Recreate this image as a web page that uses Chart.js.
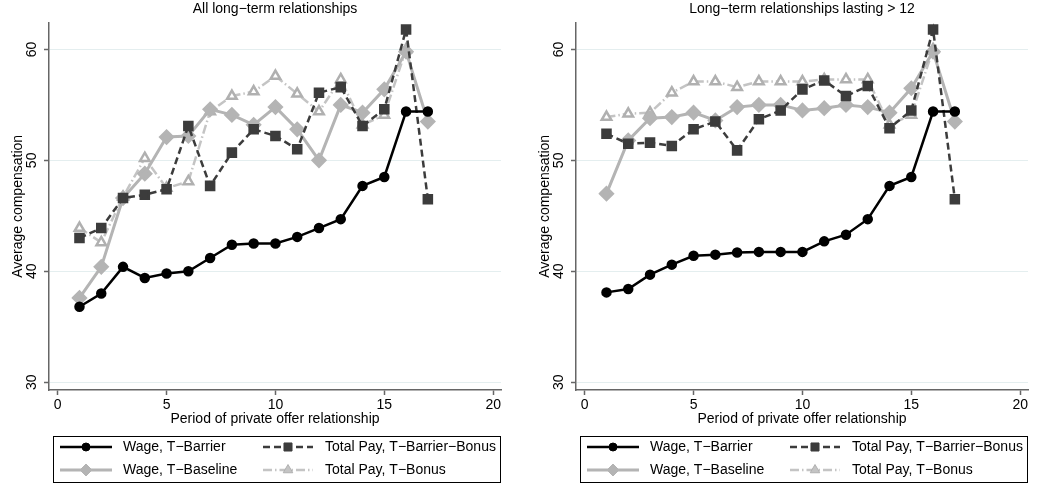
<!DOCTYPE html>
<html>
<head>
<meta charset="utf-8">
<title>Average compensation by period</title>
<script src="https://cdn.jsdelivr.net/npm/chart.js@4.4.1/dist/chart.umd.min.js"></script>
<style>
  html, body { margin: 0; padding: 0; background: #fff; }
  .panel { position: absolute; top: 0; width: 510px; height: 484px; }
  #panelLeft { left: 0; }
  #panelRight { left: 527px; }
</style>
</head>
<body>
<div class="panel" id="panelLeft"><canvas id="chartAll"></canvas></div>
<div class="panel" id="panelRight"><canvas id="chartLong"></canvas></div>
<script>
// Periods of the private offer relationship
const periods = [1, 2, 3, 4, 5, 6, 7, 8, 9, 10, 11, 12, 13, 14, 15, 16, 17];

// Left panel: all long-term relationships
const wageBarrierAll = [36.8, 38.0, 40.4, 39.4, 39.8, 40.0, 41.2, 42.4, 42.5, 42.5, 43.1, 43.9, 44.7, 47.7, 48.5, 54.4, 54.4];
const wageBaselineAll = [37.6, 40.4, 46.6, 48.8, 52.1, 52.2, 54.6, 54.1, 53.2, 54.8, 52.8, 50.0, 55.0, 54.3, 56.4, 59.8, 53.5];
const payBarrierBonusAll = [43.0, 43.9, 46.6, 46.9, 47.4, 53.1, 47.7, 50.7, 52.8, 52.2, 51.0, 56.1, 56.6, 53.1, 54.6, 61.8, 46.5];
const payBonusAll = [43.9, 42.6, 46.7, 50.2, 47.5, 48.1, 54.4, 55.8, 56.2, 57.6, 56.0, 54.4, 57.3, 53.2, 54.1, 60.0, null];

// Right panel: relationships lasting > 12
const wageBarrierLong = [38.1, 38.4, 39.7, 40.6, 41.4, 41.5, 41.7, 41.75, 41.75, 41.75, 42.7, 43.3, 44.7, 47.7, 48.5, 54.4, 54.4];
const wageBaselineLong = [47.0, 51.8, 53.8, 53.9, 54.3, 53.6, 54.8, 55.0, 55.0, 54.5, 54.7, 55.0, 54.8, 54.3, 56.5, 59.8, 53.5];
const payBarrierBonusLong = [52.4, 51.5, 51.6, 51.3, 52.8, 53.5, 50.9, 53.7, 54.5, 56.4, 57.2, 55.8, 56.7, 52.9, 54.5, 61.8, 46.5];
const payBonusLong = [53.9, 54.2, 54.3, 56.1, 57.1, 57.1, 56.6, 57.1, 57.1, 57.1, 57.3, 57.3, 57.3, 53.2, 54.1, 60.0, null];

const seriesLabels = ["Wage, T\u2212Barrier", "Wage, T\u2212Baseline", "Total Pay, T\u2212Barrier\u2212Bonus", "Total Pay, T\u2212Bonus"];
const xTicks = [0, 5, 10, 15, 20];
const yTicks = [30, 40, 50, 60];

const FONT = "'Liberation Sans', Arial, Helvetica, sans-serif";
const AXIS = "#666666";

function toPoints(vals) {
  return periods.map((p, i) => ({ x: p, y: vals[i] }));
}

function drawMarker(ctx, style, x, y, r, fill, stroke) {
  ctx.beginPath();
  if (style === "circle") {
    ctx.arc(x, y, r, 0, Math.PI * 2);
  } else if (style === "rect") {
    const s = r * Math.SQRT1_2;
    ctx.rect(x - s, y - s, 2 * s, 2 * s);
  } else if (style === "rectRot") {
    ctx.moveTo(x, y - r);
    ctx.lineTo(x + r, y);
    ctx.lineTo(x, y + r);
    ctx.lineTo(x - r, y);
    ctx.closePath();
  } else if (style === "triangle") {
    ctx.moveTo(x, y - r);
    ctx.lineTo(x + r * 0.866, y + r * 0.5);
    ctx.lineTo(x - r * 0.866, y + r * 0.5);
    ctx.closePath();
  }
  ctx.fillStyle = fill;
  ctx.fill();
  ctx.strokeStyle = stroke;
  ctx.lineWidth = 1;
  ctx.stroke();
}

// rotated y tick labels, Stata style
const yTickLabels = {
  id: "yTickLabels",
  afterDraw(chart) {
    const ctx = chart.ctx;
    const scale = chart.scales.y;
    ctx.save();
    ctx.font = "14px " + FONT;
    ctx.fillStyle = "#000";
    ctx.textAlign = "center";
    ctx.textBaseline = "middle";
    yTicks.forEach(v => {
      const py = scale.getPixelForValue(v);
      ctx.save();
      ctx.translate(32, py);
      ctx.rotate(-Math.PI / 2);
      ctx.fillText(String(v), 0, 0);
      ctx.restore();
    });
    ctx.restore();
  }
};

// boxed two-column legend under the plot
const legendBox = {
  id: "legendBox",
  afterDraw(chart) {
    const ctx = chart.ctx;
    const sets = chart.data.datasets;
    ctx.save();
    ctx.strokeStyle = "#000";
    ctx.lineWidth = 1;
    ctx.strokeRect(53.5, 436.5, 447, 46);
    const slots = [
      { x0: 60, x1: 112, tx: 123, y: 447 },
      { x0: 60, x1: 112, tx: 123, y: 470 },
      { x0: 263, x1: 313, tx: 325, y: 447 },
      { x0: 263, x1: 313, tx: 325, y: 470 }
    ];
    sets.forEach((ds, i) => {
      const s = slots[i];
      ctx.save();
      ctx.strokeStyle = ds.borderColor;
      ctx.lineWidth = ds.borderWidth;
      ctx.setLineDash(ds.borderDash || []);
      ctx.beginPath();
      ctx.moveTo(s.x0, s.y);
      ctx.lineTo(s.x1, s.y);
      ctx.stroke();
      ctx.restore();
      const fill = ds.pointStyle === "triangle" ? ds.borderColor : ds.pointBackgroundColor;
      drawMarker(ctx, ds.pointStyle, (s.x0 + s.x1) / 2, s.y, ds.pointRadius, fill, ds.pointBorderColor);
      ctx.font = "14px " + FONT;
      ctx.fillStyle = "#000";
      ctx.textAlign = "left";
      ctx.textBaseline = "middle";
      ctx.fillText(ds.label, s.tx, s.y);
    });
    ctx.restore();
  }
};

function makeChart(canvasId, title, wageBarrier, wageBaseline, payBarrierBonus, payBonus) {
  const ctx = document.getElementById(canvasId).getContext("2d");
  return new Chart(ctx, {
    type: "line",
    data: {
      datasets: [
        {
          label: seriesLabels[0],
          data: toPoints(wageBarrier),
          borderColor: "#000000",
          borderWidth: 2.5,
          pointStyle: "circle",
          pointRadius: 4,
          pointBackgroundColor: "#000000",
          pointBorderColor: "#000000",
          order: 1
        },
        {
          label: seriesLabels[1],
          data: toPoints(wageBaseline),
          borderColor: "#b4b4b4",
          borderWidth: 3,
          pointStyle: "rectRot",
          pointRadius: 6,
          pointBackgroundColor: "#b4b4b4",
          pointBorderColor: "#b4b4b4",
          order: 3
        },
        {
          label: seriesLabels[2],
          data: toPoints(payBarrierBonus),
          borderColor: "#3c3c3c",
          borderWidth: 2.5,
          borderDash: [7, 4],
          pointStyle: "rect",
          pointRadius: 5.7,
          pointBackgroundColor: "#3c3c3c",
          pointBorderColor: "#3c3c3c",
          order: 2
        },
        {
          label: seriesLabels[3],
          data: toPoints(payBonus),
          borderColor: "#c4c4c4",
          borderWidth: 2.5,
          borderDash: [9, 3, 1.5, 3],
          pointStyle: "triangle",
          pointRadius: 5.5,
          pointBackgroundColor: "#ffffff",
          pointBorderColor: "#b0b0b0",
          order: 4
        }
      ]
    },
    options: {
      responsive: true,
      maintainAspectRatio: false,
      animation: false,
      layout: { padding: { left: 0, right: 4, top: 0, bottom: 50 } },
      elements: { line: { tension: 0, fill: false } },
      plugins: {
        legend: { display: false },
        tooltip: { enabled: false },
        title: {
          display: true,
          text: title,
          color: "#000",
          fullSize: false,
          font: { family: FONT, size: 14, weight: "normal" },
          padding: { top: 1, bottom: 5 }
        }
      },
      scales: {
        x: {
          type: "linear",
          min: -0.4,
          max: 20.36,
          afterFit: s => { s.height = 44; },
          border: { color: AXIS, width: 1.5 },
          grid: { drawOnChartArea: false, drawTicks: true, tickLength: 5, tickColor: AXIS, tickWidth: 1.5 },
          ticks: {
            stepSize: 5,
            includeBounds: false,
            maxRotation: 0,
            padding: 2,
            color: "#000",
            font: { family: FONT, size: 14 }
          },
          afterBuildTicks: s => { s.ticks = xTicks.map(v => ({ value: v })); },
          title: {
            display: true,
            text: "Period of private offer relationship",
            color: "#000",
            font: { family: FONT, size: 14 },
            padding: { top: 0, bottom: 6 }
          }
        },
        y: {
          min: 29.3,
          max: 62.4,
          afterFit: s => { s.width = 49; },
          border: { color: AXIS, width: 1.5 },
          grid: { color: "#e4eeef", lineWidth: 1, drawTicks: true, tickLength: 5, tickColor: AXIS, tickWidth: 1.5 },
          ticks: { display: false, stepSize: 10, includeBounds: false },
          afterBuildTicks: s => { s.ticks = yTicks.map(v => ({ value: v })); },
          title: {
            display: true,
            text: "Average compensation",
            color: "#000",
            font: { family: FONT, size: 14 },
            padding: { top: 10, bottom: 0 }
          }
        }
      }
    },
    plugins: [yTickLabels, legendBox]
  });
}

makeChart("chartAll", "All long\u2212term relationships", wageBarrierAll, wageBaselineAll, payBarrierBonusAll, payBonusAll);
makeChart("chartLong", "Long\u2212term relationships lasting > 12", wageBarrierLong, wageBaselineLong, payBarrierBonusLong, payBonusLong);
</script>
</body>
</html>
